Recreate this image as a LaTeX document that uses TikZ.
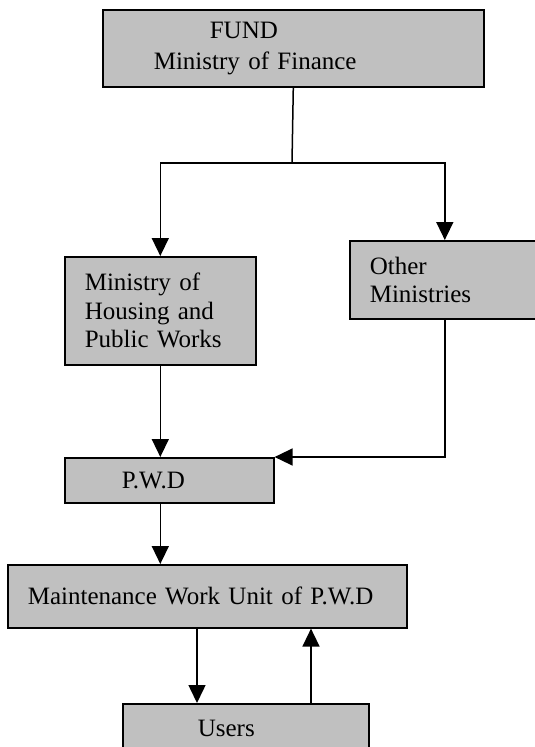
\documentclass[tikz,border=0pt]{standalone}
\usepackage{fontspec}
\setmainfont{Liberation Serif}
\usetikzlibrary{arrows.meta}
\definecolor{boxgray}{HTML}{C0C0C0}
\tikzset{
  box/.style={draw=black, fill=boxgray, line width=1.6pt, anchor=north west,
    inner ysep=0pt, align=left, font=\fontsize{25}{28.5}\selectfont},
  conn/.style={line width=1.5pt, draw=black},
  arr/.style={conn, -{Triangle[length=18pt,width=17pt]}}
}
\begin{document}
\begin{tikzpicture}[x=1pt,y=-1pt]
\clip (0,0) rectangle (535,747);
\fill[white] (0,0) rectangle (535,747);
% boxes
\node[box, minimum width=381pt, minimum height=77pt, text width=279pt, inner xsep=51pt]
  (fund) at (102,9) {\hspace*{56pt}FUND\\[2pt]Ministry of Finance};
\node[box, minimum width=191pt, minimum height=108pt, text width=151pt, inner xsep=20pt]
  (housing) at (64,256) {Ministry of\\Housing and\\Public Works};
\node[box, minimum width=190pt, minimum height=78pt, text width=150pt, inner xsep=20pt]
  (other) at (349,240) {Other\\Ministries};
\node[box, minimum width=209pt, minimum height=45pt, text width=95pt, inner xsep=57pt]
  (pwd) at (64,457) {\raisebox{-3pt}{P.W.D}};
\node[box, minimum width=399pt, minimum height=63pt, text width=359pt, inner xsep=20pt]
  (maint) at (7,564) {\raisebox{2pt}{Maintenance Work Unit of P.W.D}};
\node[box, minimum width=246pt, minimum height=49pt, text width=96pt, inner xsep=75pt]
  (users) at (122,703) {Users};
% connectors
\coordinate (split) at (292,163);
\coordinate (dn) at (197,0);
\coordinate (up) at (311,0);
\draw[conn] (fund.south) -- (split);
\draw[arr] (split) -| (housing.north);
\draw[arr] (split) -| (other.north);
\draw[arr] (housing.south) -- (housing.south |- pwd.north);
\draw[arr] (other.south) |- (pwd.north east);
\draw[arr] (pwd.south -| housing.south) -- (maint.north -| housing.south);
\draw[arr] (maint.south -| dn) -- (users.north -| dn);
\draw[arr] (users.north -| up) -- (maint.south -| up);
\end{tikzpicture}
\end{document}
